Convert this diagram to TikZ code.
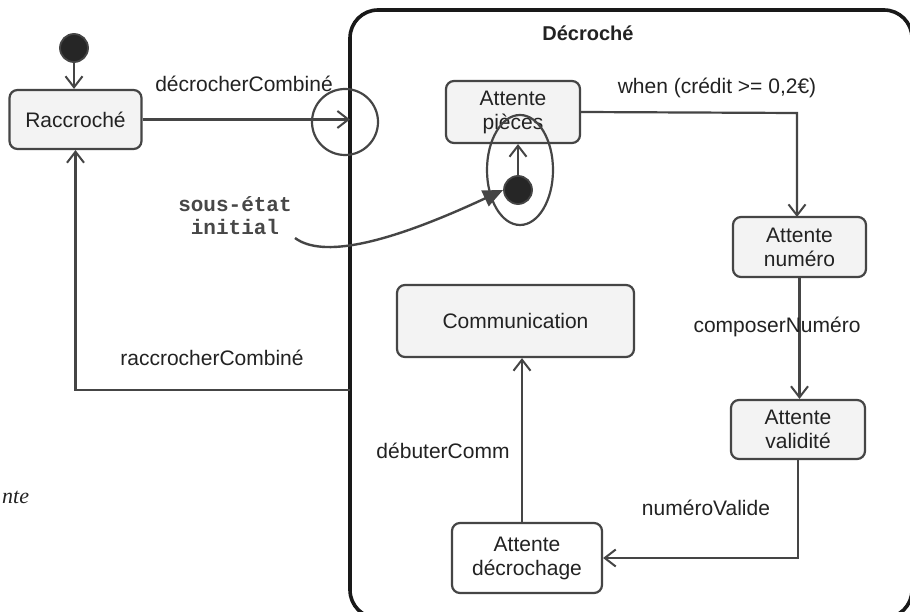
\documentclass[tikz,border=0pt]{standalone}
\usepackage{fontspec}
\setmainfont{Liberation Sans}
\newfontfamily\monob{Liberation Mono}
\newfontfamily\serifi{Liberation Serif}
\usetikzlibrary{arrows.meta,shapes.geometric}
\definecolor{boxfill}{HTML}{F3F3F3}
\definecolor{edge}{HTML}{454545}
\definecolor{txt}{HTML}{222222}
\tikzset{
  stbox/.style={draw=edge, fill=boxfill, line width=2.2pt, rounded corners=8pt,
    align=center, text=txt, font=\fontsize{21}{24}\selectfont, inner sep=0pt},
  lbl/.style={text=txt, font=\fontsize{21}{24}\selectfont, inner sep=0pt},
  trans/.style={draw=edge, line width=2.2pt,
    -{Straight Barb[length=11pt,width=17pt,line width=2pt]}},
  initdot/.style={circle, fill=black!85, draw=edge, line width=1.8pt, minimum size=28pt, inner sep=0pt},
}
\begin{document}
\begin{tikzpicture}[x=1pt,y=-1pt]
\useasboundingbox (0,0) rectangle (910,612);
\fill[white] (0,0) rectangle (910,612);
% composite state
\draw[black!90, line width=3.6pt, rounded corners=28pt] (350,10) rectangle (912,618);
\coordinate (decroW) at (350,300);
\node[lbl, font=\fontsize{20}{24}\selectfont\bfseries] (decrotitle) at (588,33) {Décroché};
% states
\node[initdot] (init) at (74,48) {};
\node[stbox, minimum width=132pt, minimum height=59pt] (rac) at (75.5,119.5) {Raccroché};
\node[stbox, minimum width=134pt, minimum height=62pt] (pie) at (513,112) {Attente\\pièces};
\node[stbox, minimum width=133pt, minimum height=60pt] (num) at (799.5,247) {Attente\\numéro};
\node[stbox, minimum width=134pt, minimum height=59pt] (val) at (798,429.5) {Attente\\validité};
\node[stbox, fill=white, minimum width=150pt, minimum height=70pt] (dec) at (527,558) {Attente\\décrochage};
\node[stbox, minimum width=237pt, minimum height=72pt] (comm) at (515.5,321) {Communication};
% inner initial and its ellipse
\node[draw=edge, line width=2.2pt, ellipse, minimum width=66pt, minimum height=110pt, inner sep=0pt] (ell) at (520,170) {};
\node[initdot] (init2) at (518,190) {};
% circle around entry point
\node[draw=edge, line width=2.2pt, circle, minimum size=66pt, inner sep=0pt] (entry) at (345,122) {};
% transitions
\draw[trans] (init.south) -- (init.south |- rac.north);
\draw[trans] (rac.east) -- (rac.east -| decroW);
\node[lbl] (l1) at (244,84) {décrocherCombiné};
\draw[trans] (init2.north) -- (init2.north |- pie.south);
\draw[trans] (pie.east) -- (797,113) -- (797,217);
\node[lbl] (l2) at (717,88) {when (crédit >= 0,2€)};
\draw[trans] (num.south) -- (num.south |- val.north);
\node[lbl] (l3) at (777,327) {composerNuméro};
\draw[trans] (val.south) |- (dec.east);
\node[lbl] (l4) at (706,508) {numéroValide};
\draw[trans] ([xshift=-5pt]dec.north) -- ([xshift=-5pt]dec.north |- comm.south);
\node[lbl] (l5) at (443,451) {débuterComm};
\coordinate (rstart) at (350,390);
\draw[trans] (rstart) -- (rac.south |- rstart) -- (rac.south);
\node[lbl] (l6) at (212,358) {raccrocherCombiné};
% note
\node[text=black!72, font=\fontsize{21}{23}\monob\bfseries, align=center, inner sep=0pt] (note) at (235,216) {sous-état\\initial};
\coordinate (nstart) at (295,238);
\draw[draw=edge, line width=2.4pt, -{Triangle[length=20pt,width=17pt,fill=edge]}]
  (nstart) .. controls (322,258) and (385,245) .. (init2.west);
% fragment at left
\node[anchor=west, text=txt, font=\fontsize{22}{24}\serifi\itshape, inner sep=0pt] (frag) at (2,497) {nte};
\end{tikzpicture}
\end{document}
